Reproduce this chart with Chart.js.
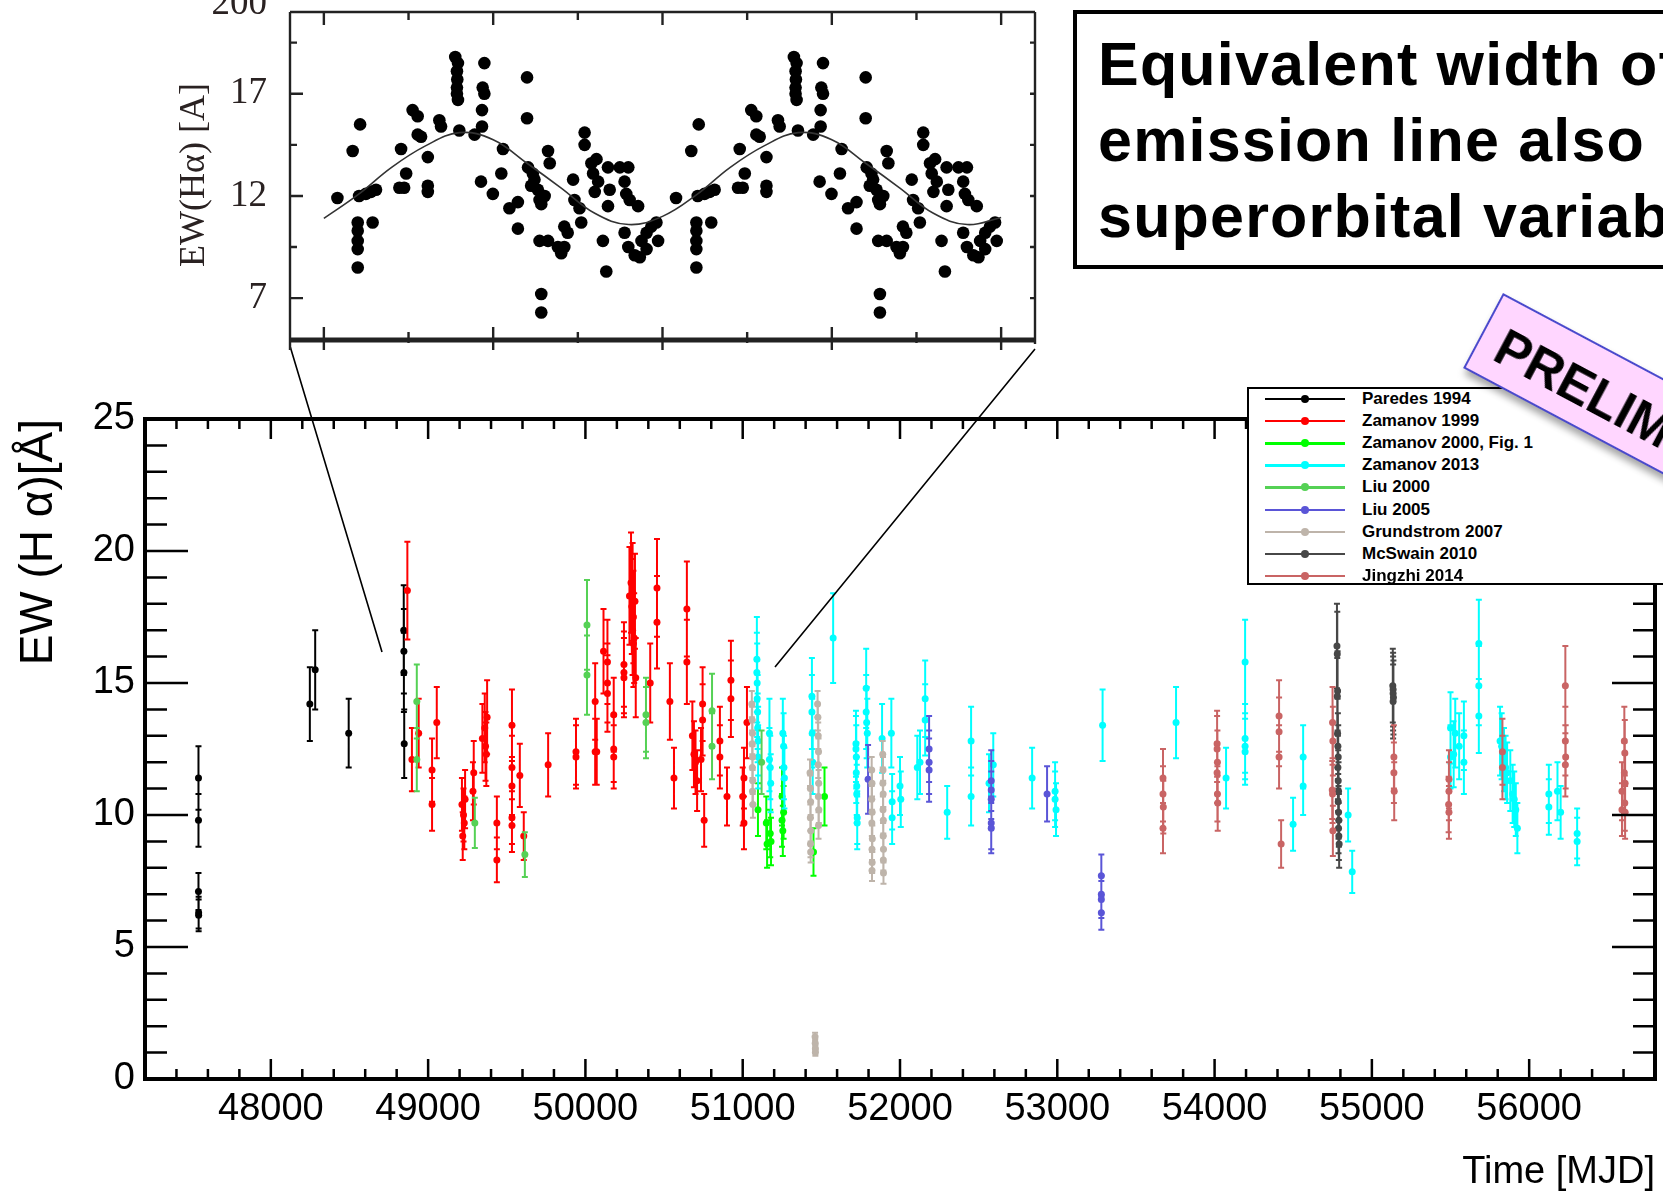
<!DOCTYPE html>
<html lang="en">
<head>
<meta charset="UTF-8">
<title>EW(Hα) history</title>
<script src="https://cdn.jsdelivr.net/npm/chart.js"></script>
<style>
  * { box-sizing: border-box; margin:0; padding:0; }
  html, body { width:1663px; height:1195px; overflow:hidden; background:#fff; }
  body { position:relative; font-family:'Liberation Sans', Arial, sans-serif; }
  #main { position:absolute; left:0; top:0; z-index:0; }
  #inset { position:absolute; left:150px; top:0; z-index:1; filter:blur(0.6px); }
  #titleBox {
    position:absolute; left:1073px; top:10px; width:800px; height:259px;
    border:4px solid #000; background:#fff; z-index:2;
    padding:12px 0 0 21px; font-weight:bold; font-size:61px; line-height:76px;
    letter-spacing:1.2px; white-space:nowrap; color:#000;
  }
  #legend {
    position:absolute; left:1247px; top:387px; width:640px; height:198px;
    border:2px solid #000; background:#fff; z-index:2;
  }
  .row { position:absolute; left:0; width:600px; height:22px; }
  .row .ln { position:absolute; left:16px; top:10px; width:80px; height:2.4px; }
  .row .dot { position:absolute; left:52px; top:7px; width:8px; height:8px; border-radius:50%; }
  .row .tx { position:absolute; left:113px; top:0; font-weight:bold; font-size:17px; line-height:22px; color:#000; white-space:nowrap; }
  #sticker {
    position:absolute; left:1503px; top:293px; width:440px; height:85px;
    background:#ffd6ff; border:2px solid #4a4acc; z-index:3;
    transform-origin:0 0; transform:rotate(28deg);
    box-shadow:4px 5px 7px rgba(0,0,0,0.35);
  }
  #sticker span {
    position:absolute; left:18px; top:0; line-height:90px;
    font-weight:bold; font-size:51px; color:#000; white-space:nowrap;
  }
</style>
</head>
<body>

<canvas id="main" width="1663" height="1195"></canvas>
<canvas id="inset" width="900" height="360"></canvas>

<div id="titleBox">Equivalent width of Hα<br>emission line also shows<br>superorbital variability</div>
<div id="legend"></div>
<div id="sticker"><span>PRELIMINARY</span></div>

<script>
// [MJD, EW(Hα) in Å, error]
const paredes1994 = [
  [47540, 11.4, 1.2], [47540, 9.8, 1.0], [47540, 7.1, 0.7], [47541, 6.3, 0.6], [47541, 6.2, 0.6],
  [48248, 14.2, 1.4], [48282, 15.5, 1.5], [48495, 13.1, 1.3],
  [48845, 17.0, 1.7], [48846, 16.2, 1.6], [48846, 15.4, 1.5], [48848, 12.7, 1.3]
];
const zamanov1999 = [
  [48868, 18.5, 1.85], [48897, 12.1, 1.2], [48940, 13.1, 1.3],
  [49025, 11.7, 1.2], [49025, 10.4, 1.0], [49055, 13.5, 1.35],
  [49215, 10.4, 1.0], [49225, 10.0, 1.0], [49230, 9.7, 1.0], [49220, 9.2, 0.9], [49235, 10.6, 1.1],
  [49290, 11.6, 1.2], [49285, 10.9, 1.1],
  [49345, 12.9, 1.3], [49360, 13.3, 1.3], [49375, 13.7, 1.4], [49365, 12.6, 1.3], [49370, 12.3, 1.2],
  [49437, 9.7, 1.0], [49437, 8.3, 0.85],
  [49533, 13.4, 1.35], [49533, 11.8, 1.2], [49533, 11.1, 1.1], [49533, 9.9, 1.0], [49533, 9.6, 1.0],
  [49583, 11.5, 1.2], [49608, 9.2, 0.9], [49763, 11.9, 1.2],
  [49940, 12.4, 1.25], [49940, 12.2, 1.2],
  [50062, 14.3, 1.45], [50062, 12.4, 1.25], [50072, 12.4, 1.25],
  [50115, 16.2, 1.6], [50140, 15.8, 1.6], [50140, 15.0, 1.5], [50140, 14.6, 1.45],
  [50180, 13.8, 1.4], [50180, 12.5, 1.25], [50180, 12.2, 1.2],
  [50245, 15.7, 1.6], [50245, 15.4, 1.55], [50245, 15.2, 1.5],
  [50280, 18.3, 1.85], [50290, 18.8, 1.9], [50300, 18.45, 1.85], [50295, 17.9, 1.8], [50305, 17.5, 1.75],
  [50300, 17.0, 1.7], [50310, 16.7, 1.7], [50305, 16.5, 1.65], [50320, 15.2, 1.5], [50315, 18.1, 1.8],
  [50412, 15.0, 1.5], [50455, 18.6, 1.85], [50455, 17.3, 1.75],
  [50537, 14.3, 1.45], [50563, 11.4, 1.15], [50645, 17.8, 1.8], [50645, 15.8, 1.6],
  [50680, 13.0, 1.3], [50690, 12.3, 1.25], [50700, 12.0, 1.2], [50710, 11.3, 1.15], [50735, 12.1, 1.2],
  [50745, 14.2, 1.4], [50745, 13.6, 1.35], [50755, 9.8, 1.0],
  [50855, 12.8, 1.3], [50855, 12.2, 1.2], [50900, 10.7, 1.1], [50925, 15.1, 1.5], [50925, 14.4, 1.45],
  [51008, 11.4, 1.15], [51008, 9.7, 1.0], [51027, 13.5, 1.35], [51000, 10.7, 1.1]
];
const zamanov2000 = [
  [51097, 10.2, 1.0], [51150, 9.7, 1.0], [51155, 8.9, 0.9], [51175, 9.3, 0.9], [51180, 9.0, 0.9],
  [51250, 10.7, 1.1], [51250, 9.8, 1.0], [51255, 9.4, 0.95], [51260, 10.1, 1.0],
  [51450, 8.6, 0.9], [51520, 10.7, 1.1]
];
const zamanov2013 = [
  [51090, 15.9, 1.6], [51090, 15.4, 1.5], [51092, 15.0, 1.5], [51092, 14.4, 1.45], [51095, 13.9, 1.4],
  [51095, 13.3, 1.3], [51098, 12.8, 1.3], [51098, 12.2, 1.2],
  [51170, 13.1, 1.3], [51170, 12.1, 1.2], [51175, 11.8, 1.2], [51178, 11.2, 1.1],
  [51255, 13.1, 1.3], [51260, 12.6, 1.25], [51262, 11.8, 1.2], [51265, 11.4, 1.15],
  [51440, 14.5, 1.45], [51440, 13.9, 1.4], [51442, 13.1, 1.3], [51445, 12.0, 1.2],
  [51575, 16.7, 1.7],
  [51720, 12.7, 1.25], [51720, 12.5, 1.25], [51722, 12.2, 1.2], [51722, 11.6, 1.15], [51725, 11.1, 1.1],
  [51725, 10.8, 1.1], [51728, 9.9, 1.0], [51728, 9.7, 1.0],
  [51785, 14.8, 1.5], [51785, 13.9, 1.4], [51788, 13.5, 1.35], [51792, 13.1, 1.3],
  [51886, 12.9, 1.3], [51945, 13.1, 1.3], [51950, 10.5, 1.05], [51950, 9.9, 1.0], [52000, 11.1, 1.1], [52005, 10.6, 1.05],
  [52110, 11.8, 1.2], [52127, 12.0, 1.2], [52160, 14.4, 1.45], [52160, 13.6, 1.35],
  [52300, 10.1, 1.0], [52452, 12.8, 1.3], [52452, 10.7, 1.1], [52593, 11.9, 1.2], [52566, 11.2, 1.1],
  [52840, 11.4, 1.15], [52986, 10.9, 1.1], [52986, 10.6, 1.05], [52992, 10.2, 1.0],
  [53288, 13.4, 1.35], [53755, 13.5, 1.35], [54073, 11.4, 1.15],
  [54194, 15.8, 1.6], [54194, 12.9, 1.3], [54194, 12.6, 1.25], [54194, 12.4, 1.25],
  [54499, 9.65, 1.0], [54563, 12.2, 1.2], [54563, 11.1, 1.1], [54849, 10.0, 1.0], [54875, 7.85, 0.8],
  [55500, 13.3, 1.35], [55530, 13.1, 1.3], [55555, 12.6, 1.25], [55585, 13.0, 1.3], [55585, 12.0, 1.2],
  [55520, 12.3, 1.25], [55500, 12.2, 1.2],
  [55680, 16.5, 1.65], [55680, 14.9, 1.5], [55680, 13.75, 1.4],
  [55815, 12.8, 1.3], [55825, 12.6, 1.25], [55840, 12.1, 1.2], [55850, 11.8, 1.2], [55860, 11.6, 1.15],
  [55880, 11.3, 1.15], [55895, 10.8, 1.1], [55905, 10.6, 1.05], [55915, 10.2, 1.0], [55925, 9.5, 0.95],
  [56125, 10.8, 1.1], [56125, 10.3, 1.05], [56180, 10.9, 1.1], [56200, 10.1, 1.0],
  [56305, 9.3, 0.95], [56305, 9.0, 0.9]
];
const liu2000 = [
  [48928, 14.3, 1.4], [48928, 12.1, 1.2], [49297, 9.7, 0.95], [49615, 8.5, 0.85],
  [50010, 17.2, 1.7], [50010, 15.3, 1.5], [50385, 13.8, 1.4], [50385, 13.5, 1.35],
  [50805, 13.95, 1.4], [50805, 12.6, 1.25], [51120, 12.0, 1.2]
];
const liu2005 = [
  [51797, 11.35, 1.3], [52185, 12.5, 1.25], [52185, 12.0, 1.2], [52185, 11.7, 1.2],
  [52580, 11.3, 1.15], [52580, 10.95, 1.1], [52580, 10.6, 1.05], [52580, 9.7, 1.0], [52580, 9.5, 0.95],
  [52935, 10.8, 1.05], [53280, 7.7, 0.8], [53280, 7.0, 0.7], [53280, 6.8, 0.7], [53280, 6.3, 0.65]
];
const grundstrom2007 = [
  [51058, 14.2, 0.5], [51060, 13.6, 0.5], [51062, 13.1, 0.5], [51060, 12.7, 0.5], [51063, 12.2, 0.5],
  [51061, 11.8, 0.5], [51064, 11.3, 0.5], [51062, 10.9, 0.5], [51065, 10.4, 0.5],
  [51428, 11.6, 0.5], [51430, 11.0, 0.5], [51432, 10.5, 0.5], [51430, 9.9, 0.5], [51433, 9.4, 0.5],
  [51431, 8.9, 0.5], [51432, 8.6, 0.4],
  [51476, 14.2, 0.5], [51478, 13.7, 0.5], [51480, 13.0, 0.5], [51482, 12.4, 0.5], [51480, 11.9, 0.5],
  [51483, 11.2, 0.5], [51481, 10.7, 0.5], [51484, 10.2, 0.5], [51482, 9.6, 0.5],
  [51460, 1.6, 0.15], [51461, 1.35, 0.15], [51462, 1.15, 0.12], [51462, 1.0, 0.12],
  [51820, 11.7, 0.5], [51822, 11.2, 0.5], [51820, 10.6, 0.5], [51823, 10.1, 0.5], [51821, 9.7, 0.5],
  [51824, 9.1, 0.5], [51822, 8.7, 0.5], [51823, 8.2, 0.4], [51822, 7.9, 0.4],
  [51890, 12.3, 0.5], [51892, 11.7, 0.5], [51891, 11.2, 0.5], [51893, 10.8, 0.5], [51892, 10.2, 0.5],
  [51894, 9.8, 0.5], [51893, 9.2, 0.5], [51895, 8.7, 0.5], [51894, 8.3, 0.4], [51895, 7.8, 0.4]
];
const mcswain2010 = [
  [54778, 16.4, 1.6], [54780, 16.1, 1.6], [54782, 14.7, 1.5], [54780, 14.5, 1.45], [54782, 13.1, 1.3],
  [54784, 12.6, 1.25], [54786, 12.2, 1.2], [54784, 11.8, 1.2], [54786, 11.3, 1.15], [54788, 10.9, 1.1],
  [54786, 10.5, 1.05], [54788, 10.1, 1.0], [54790, 9.8, 1.0], [54788, 9.5, 0.95], [54790, 9.2, 0.9],
  [54792, 8.9, 0.9],
  [55133, 14.9, 1.4], [55135, 14.75, 1.4], [55135, 14.6, 1.4], [55137, 14.45, 1.4], [55135, 14.3, 1.4]
];
const jingzhi2014 = [
  [53672, 11.4, 1.1], [53672, 10.8, 1.05], [53674, 10.3, 1.0], [53672, 9.5, 0.95],
  [54016, 12.7, 1.25], [54016, 12.5, 1.25], [54018, 12.0, 1.2], [54016, 11.6, 1.15], [54018, 10.8, 1.05], [54020, 10.45, 1.05],
  [54410, 13.75, 1.35], [54410, 13.15, 1.3], [54410, 12.2, 1.2], [54423, 8.9, 0.9],
  [54750, 13.5, 1.35], [54752, 12.8, 1.3], [54748, 10.95, 1.1], [54750, 10.8, 1.1], [54752, 9.4, 0.95],
  [55140, 12.2, 1.2], [55140, 11.6, 1.15], [55142, 10.9, 1.1],
  [55490, 11.35, 1.1], [55490, 10.9, 1.1], [55488, 10.4, 1.05], [55490, 10.1, 1.0],
  [55830, 12.4, 1.25], [55830, 11.8, 1.2],
  [56230, 14.9, 1.5], [56230, 12.8, 1.3], [56232, 12.2, 1.2], [56230, 11.9, 1.2],
  [56605, 12.8, 1.3], [56608, 12.35, 1.25], [56605, 11.6, 1.15], [56590, 10.9, 1.1], [56610, 11.2, 1.1],
  [56608, 10.45, 1.05], [56590, 10.2, 1.0], [56610, 10.1, 1.0]
];

const seriesNames = ['Paredes 1994', 'Zamanov 1999', 'Zamanov 2000, Fig. 1', 'Zamanov 2013', 'Liu 2000',
                     'Liu 2005', 'Grundstrom 2007', 'McSwain 2010', 'Jingzhi 2014'];
const seriesData = [paredes1994, zamanov1999, zamanov2000, zamanov2013, liu2000,
                    liu2005, grundstrom2007, mcswain2010, jingzhi2014];
const seriesColors = ['#000000', '#ff0000', '#00ff00', '#00ffff', '#55d155',
                      '#5a55d7', '#beb4aa', '#474747', '#c96464'];
const xTickValues = [48000, 49000, 50000, 51000, 52000, 53000, 54000, 55000, 56000];
const yTickValues = [0, 5, 10, 15, 20, 25];

// folded EW(Hα) curve of the inset: [phase, EW]
const insetPoints = [
  [0.04, 11.9], [0.085, 14.2], [0.107, 15.5], [0.104, 12.0], [0.124, 12.1], [0.139, 12.2], [0.154, 12.3],
  [0.10, 10.7], [0.10, 10.3], [0.10, 9.8], [0.10, 9.4], [0.10, 8.5], [0.144, 10.7],
  [0.228, 14.3], [0.223, 12.4], [0.237, 12.4], [0.243, 13.1], [0.262, 16.2], [0.277, 15.9],
  [0.287, 14.9], [0.277, 15.0], [0.307, 13.9], [0.307, 12.5], [0.307, 12.2], [0.341, 15.7], [0.346, 15.4],
  [0.388, 18.8], [0.396, 18.5], [0.393, 18.1], [0.394, 17.7], [0.393, 17.3], [0.393, 17.0], [0.396, 16.7],
  [0.40, 15.2], [0.445, 15.0], [0.474, 18.5], [0.469, 17.3], [0.474, 17.0], [0.467, 16.2], [0.467, 15.4],
  [0.464, 12.7], [0.499, 12.1], [0.524, 13.1], [0.529, 14.3], [0.548, 11.4], [0.573, 11.7], [0.573, 10.4],
  [0.60, 17.8], [0.60, 15.8], [0.603, 13.4], [0.617, 13.1], [0.622, 12.8], [0.612, 12.5], [0.632, 12.3],
  [0.637, 11.8], [0.642, 11.6], [0.652, 12.0], [0.662, 14.2], [0.667, 13.6], [0.642, 7.2], [0.642, 6.3],
  [0.637, 9.8], [0.662, 9.8], [0.691, 9.5], [0.701, 9.2],
  [0.71, 10.5], [0.71, 9.5], [0.72, 10.2], [0.736, 12.8], [0.74, 11.8], [0.755, 11.4], [0.76, 10.7],
  [0.77, 15.1], [0.77, 14.5], [0.79, 13.6], [0.805, 13.8], [0.795, 13.1], [0.81, 12.7], [0.80, 12.2],
  [0.824, 9.8], [0.834, 8.3], [0.839, 13.4], [0.844, 12.3], [0.839, 11.5], [0.874, 13.4], [0.899, 13.4],
  [0.888, 12.7], [0.893, 12.1], [0.903, 11.8], [0.928, 11.5], [0.888, 10.2], [0.899, 9.5], [0.918, 9.1],
  [0.938, 9.8], [0.953, 10.2], [0.967, 10.5], [0.982, 10.7], [0.987, 9.8], [0.953, 9.4], [0.933, 9.0]
];
const fitPhase = [0, 0.1, 0.2, 0.3, 0.4, 0.5, 0.6, 0.7, 0.8, 0.9, 1.0,
                  1.1, 1.2, 1.3, 1.4, 1.5, 1.6, 1.7, 1.8, 1.9, 2.0];
const fitEW = [10.9, 12.05, 13.4, 14.45, 15.1, 14.75, 13.6, 12.4, 11.15, 10.6, 11.0,
               12.05, 13.4, 14.45, 15.1, 14.75, 13.6, 12.4, 11.15, 10.6, 10.95];
const insetTickValues = [7, 12, 17, 21.4];
const insetTickLabels = ['7', '12', '17', '200'];

Chart.defaults.font.family = "'Liberation Sans', Arial, sans-serif";
Chart.defaults.color = '#000';

function drawErrorBars(chart, index) {
  const ds = chart.data.datasets[index];
  if (!ds.errors) return;
  const { ctx, chartArea: a, scales: { x, y } } = chart;
  ctx.save();
  ctx.beginPath();
  ctx.rect(a.left, a.top, a.width, a.height);
  ctx.clip();
  ctx.strokeStyle = ds.borderColor;
  ctx.lineWidth = 2;
  ctx.beginPath();
  ds.data.forEach((p, i) => {
    const px = x.getPixelForValue(p.x);
    const hi = y.getPixelForValue(p.y + ds.errors[i]);
    const lo = y.getPixelForValue(p.y - ds.errors[i]);
    ctx.moveTo(px, hi); ctx.lineTo(px, lo);
    ctx.moveTo(px - 3, hi); ctx.lineTo(px + 3, hi);
    ctx.moveTo(px - 3, lo); ctx.lineTo(px + 3, lo);
  });
  ctx.stroke();
  ctx.restore();
}

// frame with inward ROOT-style ticks, error bars, and the two zoom guide lines
const mainDecor = {
  id: 'mainDecor',
  beforeDatasetDraw(chart, args) { drawErrorBars(chart, args.index); },
  afterDraw(chart) {
    const { ctx, chartArea: a, scales: { x, y } } = chart;
    ctx.save();
    ctx.strokeStyle = '#000';
    ctx.lineWidth = 2.5;
    ctx.beginPath();
    for (let k = 0; k <= 48; k++) {
      const v = x.min + k * 200;
      const px = x.getPixelForValue(v);
      const len = v % 1000 === 0 ? 20 : 10;
      ctx.moveTo(px, a.bottom); ctx.lineTo(px, a.bottom - len);
      ctx.moveTo(px, a.top); ctx.lineTo(px, a.top + len);
    }
    for (let v = 0; v <= 25; v++) {
      const py = y.getPixelForValue(v);
      const len = v % 5 === 0 ? 43 : 22;
      ctx.moveTo(a.left, py); ctx.lineTo(a.left + len, py);
      ctx.moveTo(a.right, py); ctx.lineTo(a.right - len, py);
    }
    ctx.stroke();
    ctx.lineWidth = 4;
    ctx.strokeRect(a.left, a.top, a.width, a.height);

    ctx.lineWidth = 1.6;
    ctx.beginPath();
    ctx.moveTo(290, 346); ctx.lineTo(382, 652);
    ctx.moveTo(1035, 349); ctx.lineTo(775, 667);
    ctx.stroke();
    ctx.restore();
  }
};

new Chart(document.getElementById('main'), {
  type: 'scatter',
  data: {
    datasets: seriesData.map((pts, i) => ({
      label: seriesNames[i],
      data: pts.map(p => ({ x: p[0], y: p[1] })),
      errors: pts.map(p => p[2]),
      backgroundColor: seriesColors[i],
      borderColor: seriesColors[i],
      pointRadius: 3.5,
      pointHoverRadius: 3.5,
      pointBorderWidth: 0,
      order: -i
    }))
  },
  options: {
    responsive: false,
    animation: false,
    layout: { padding: { left: 0, top: 419, right: 8, bottom: 0 } },
    plugins: { legend: { display: false }, tooltip: { enabled: false } },
    scales: {
      x: {
        type: 'linear', min: 47200, max: 56800,
        afterBuildTicks: s => { s.ticks = xTickValues.map(v => ({ value: v })); },
        afterFit: s => { s.height = 116; s.paddingLeft = 0; s.paddingRight = 0; },
        grid: { display: false, drawTicks: false },
        border: { display: false },
        ticks: {
          padding: 8, maxRotation: 0, autoSkip: false,
          font: { size: 38 }, color: '#000', callback: v => String(v)
        },
        title: {
          display: true, text: 'Time [MJD]', align: 'end', color: '#000',
          font: { size: 38 }, padding: { top: 0, bottom: 0 }
        }
      },
      y: {
        min: 0, max: 25,
        afterBuildTicks: s => { s.ticks = yTickValues.map(v => ({ value: v })); },
        afterFit: s => { s.width = 145; s.paddingTop = 0; s.paddingBottom = 0; },
        grid: { display: false, drawTicks: false },
        border: { display: false },
        ticks: { padding: 10, font: { size: 38 }, color: '#000' },
        title: {
          display: true, text: 'EW (H α)[Å]', align: 'end', color: '#000',
          font: { size: 46 }, padding: { top: 12, bottom: 0 }
        }
      }
    }
  },
  plugins: [mainDecor]
});

// inset: phase-folded light curve, shown over two cycles
const insetDecor = {
  id: 'insetDecor',
  afterDraw(chart) {
    const { ctx, chartArea: a, scales: { x, y } } = chart;
    ctx.save();
    ctx.strokeStyle = '#222';
    ctx.lineWidth = 2.4;
    ctx.beginPath();
    ctx.moveTo(a.left, a.top); ctx.lineTo(a.right, a.top);
    ctx.moveTo(a.left, a.top); ctx.lineTo(a.left, a.bottom + 12);
    ctx.moveTo(a.right, a.top); ctx.lineTo(a.right, a.bottom + 6);
    for (let k = 0; k <= 8; k++) {
      const px = x.getPixelForValue(k * 0.25);
      const major = k % 2 === 0;
      ctx.moveTo(px, a.top); ctx.lineTo(px, a.top + (major ? 13 : 8));
      ctx.moveTo(px, a.bottom - (major ? 11 : 6)); ctx.lineTo(px, a.bottom + (major ? 12 : 5));
    }
    [7, 9.5, 12, 14.5, 17, 19.5].forEach(v => {
      const py = y.getPixelForValue(v);
      const len = Number.isInteger(v) ? 13 : 7;
      ctx.moveTo(a.left, py); ctx.lineTo(a.left + len, py);
      ctx.moveTo(a.right, py); ctx.lineTo(a.right - 5, py);
    });
    ctx.stroke();
    ctx.lineWidth = 5;
    ctx.beginPath();
    ctx.moveTo(a.left, a.bottom + 2); ctx.lineTo(a.right, a.bottom + 2);
    ctx.stroke();
    ctx.restore();
  }
};

const insetDots = insetPoints.map(p => ({ x: p[0], y: p[1] }))
  .concat(insetPoints.map(p => ({ x: p[0] + 1, y: p[1] })));

new Chart(document.getElementById('inset'), {
  type: 'scatter',
  data: {
    datasets: [
      {
        type: 'line',
        data: fitPhase.map((p, i) => ({ x: p, y: fitEW[i] })),
        borderColor: '#333', borderWidth: 1.6, pointRadius: 0, tension: 0.4, fill: false
      },
      {
        data: insetDots,
        backgroundColor: '#000', pointRadius: 6.3, pointHoverRadius: 6.3, pointBorderWidth: 0
      }
    ]
  },
  options: {
    responsive: false,
    animation: false,
    layout: { padding: { left: 0, top: 12, right: 15, bottom: 22 } },
    plugins: { legend: { display: false }, tooltip: { enabled: false } },
    scales: {
      x: { type: 'linear', min: -0.1, max: 2.1, display: false },
      y: {
        min: 5.05, max: 21,
        afterBuildTicks: s => { s.ticks = insetTickValues.map(v => ({ value: v })); },
        afterFit: s => { s.width = 140; s.paddingTop = 0; s.paddingBottom = 0; },
        grid: { display: false, drawTicks: false },
        border: { display: false },
        ticks: {
          padding: 23, color: '#2a2222',
          font: { size: 37, family: "'Liberation Serif', 'Times New Roman', serif" },
          callback: v => insetTickLabels[insetTickValues.indexOf(v)]
        },
        title: {
          display: true, text: 'EW(Hα) [A]', color: '#2a2222',
          font: { size: 36, family: "'Liberation Serif', 'Times New Roman', serif" },
          padding: { top: 23, bottom: 0 }
        }
      }
    }
  },
  plugins: [insetDecor]
});

// legend box
const legend = document.getElementById('legend');
seriesNames.forEach((name, i) => {
  const row = document.createElement('div');
  row.className = 'row';
  row.style.top = (-1 + i * 22.1) + 'px';
  row.innerHTML = `<div class="ln" style="background:${seriesColors[i]}"></div>` +
                  `<div class="dot" style="background:${seriesColors[i]}"></div>` +
                  `<div class="tx">${name}</div>`;
  legend.appendChild(row);
});
</script>
</body>
</html>
